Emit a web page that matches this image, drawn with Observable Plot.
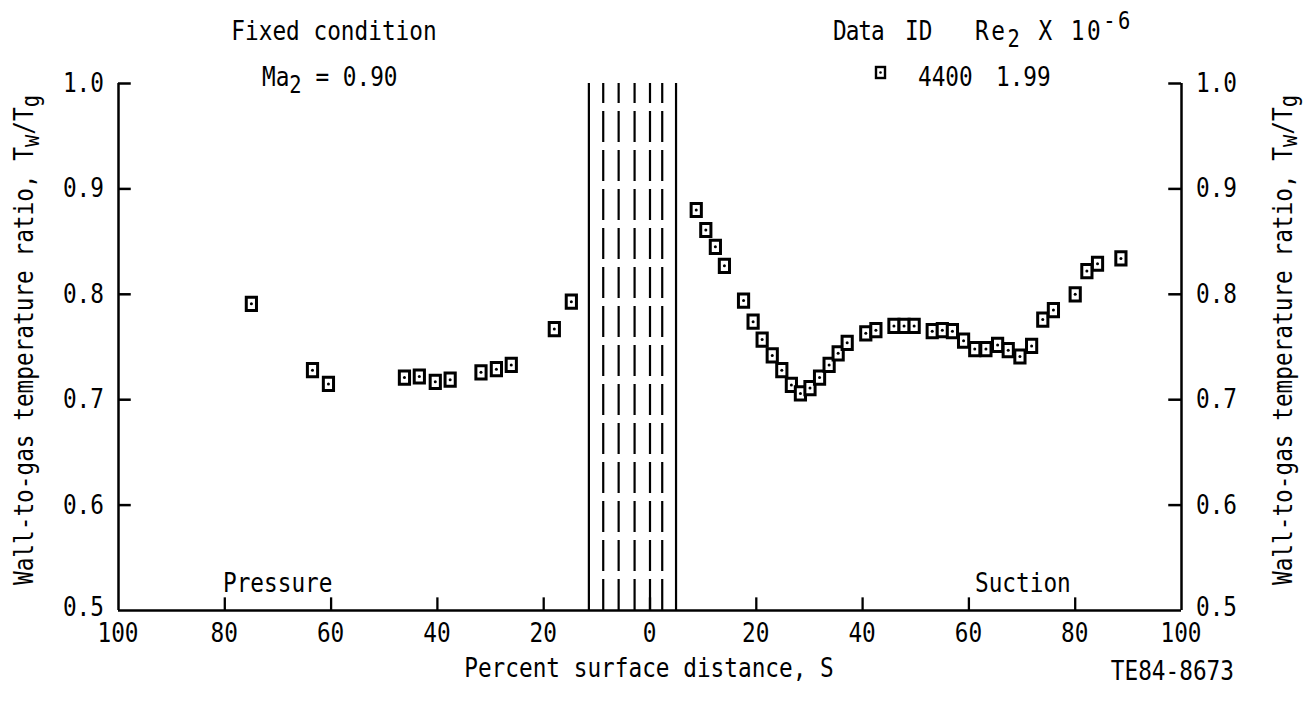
<!DOCTYPE html>
<html>
<head>
<meta charset="utf-8">
<script src="https://cdn.jsdelivr.net/npm/d3@7"></script>
<script src="https://cdn.jsdelivr.net/npm/@observablehq/plot@0.6"></script>
<style>
  html, body { margin: 0; padding: 0; background: #fff; }
</style>
</head>
<body>
<div id="chart"></div>
<script>
// Percent surface distance (pressure side negative) and wall-to-gas temperature ratio
const pressureS = [-75.0, -63.5, -60.5, -46.2, -43.4, -40.4, -37.6, -31.8, -28.9, -26.1, -18.0, -14.8];
const pressureT = [0.791, 0.728, 0.715, 0.721, 0.722, 0.717, 0.719, 0.726, 0.729, 0.733, 0.767, 0.793];
const suctionS = [8.7, 10.5, 12.3, 14.0, 17.6, 19.4, 21.1, 23.0, 24.8, 26.6, 28.3, 30.1, 31.9, 33.7, 35.4, 37.1,
  40.6, 42.5, 45.9, 47.8, 49.7, 53.1, 55.0, 56.9, 59.0, 61.1, 63.2, 65.4, 67.4, 69.6, 71.8, 73.9, 75.9, 80.0, 82.2, 84.2, 88.6];
const suctionT = [0.880, 0.861, 0.845, 0.827, 0.794, 0.774, 0.757, 0.742, 0.728, 0.714, 0.706, 0.711, 0.721, 0.733, 0.744, 0.754,
  0.763, 0.766, 0.770, 0.770, 0.770, 0.765, 0.766, 0.765, 0.756, 0.748, 0.748, 0.752, 0.747, 0.741, 0.751, 0.776, 0.785, 0.800, 0.822, 0.829, 0.834];
// Cooling hole rows near leading edge
const holeSolid = [-11.5, 4.9];
const holeDashed = [-8.8, -5.9, -2.9, 0, 2.3];
const xTicks = [-100, -80, -60, -40, -20, 0, 20, 40, 60, 80, 100];
const yTicks = [0.5, 0.6, 0.7, 0.8, 0.9, 1.0];

const points = pressureS.map((s, i) => ({s, t: pressureT[i]}))
  .concat(suctionS.map((s, i) => ({s, t: suctionT[i]})));

const FONT = "'DejaVu Sans Mono', 'Liberation Mono', monospace";
const FS = 22.75;      // font size (advance ~13.7px)
const SY = 1.2;        // vertical stretch to mimic tall plotter lettering

const rectSymbol = {
  draw(ctx) {
    const w = 5.1, h = 6.6;
    ctx.moveTo(-w, -h); ctx.lineTo(w, -h); ctx.lineTo(w, h); ctx.lineTo(-w, h); ctx.closePath();
  }
};

const chart = Plot.plot({
  width: 1307,
  height: 702,
  marginLeft: 118,
  marginRight: 126,
  marginTop: 83,
  marginBottom: 92,
  style: {fontFamily: FONT, fontSize: FS + "px", color: "black", background: "white"},
  x: {domain: [-100, 100], axis: null},
  y: {domain: [0.5, 1.0], axis: null},
  marks: [
    Plot.ruleX([-100, 100], {y1: 0.5, y2: 1.0, stroke: "black", strokeWidth: 2.5}),
    Plot.ruleY([0.5], {x1: -100, x2: 100, stroke: "black", strokeWidth: 2.5}),
    Plot.ruleY(yTicks.slice(1), {x1: -100, x2: -97.6, stroke: "black", strokeWidth: 2.5}),
    Plot.ruleY(yTicks.slice(1), {x1: 100, x2: 97.6, stroke: "black", strokeWidth: 2.5}),
    Plot.ruleX(xTicks.slice(1, -1), {y1: 0.5, y2: 0.512, stroke: "black", strokeWidth: 2.3}),
    Plot.ruleX(holeSolid, {y1: 0.5, y2: 1.0, stroke: "black", strokeWidth: 2.2}),
    Plot.ruleX(holeDashed, {y1: 0.5, y2: 1.0, stroke: "black", strokeWidth: 2.2, strokeDasharray: "31,8"}),
    Plot.dot(points, {x: "s", y: "t", symbol: rectSymbol, fill: "white", stroke: "black", strokeWidth: 3}),
    Plot.dot(points, {x: "s", y: "t", r: 1.5, fill: "black", stroke: "none"})
  ]
});
document.getElementById("chart").appendChild(chart);

const svg = d3.select(chart);
const sx = chart.scale("x"), sy = chart.scale("y");

function addText(x, y, parts, opts = {}) {
  const size = opts.size || FS;
  const g = svg.append("g")
    .attr("transform", `translate(${x},${y})${opts.rotate ? ` rotate(${opts.rotate})` : ""} scale(1,${SY})`);
  const t = g.append("text")
    .attr("x", 0).attr("y", 0)
    .attr("font-family", FONT)
    .attr("font-size", size)
    .attr("fill", "black")
    .attr("text-anchor", opts.anchor || "start");
  if (opts.spacing) t.attr("letter-spacing", opts.spacing);
  let shift = 0;
  for (const p of parts) {
    const [str, kind] = Array.isArray(p) ? p : [p, null];
    const target = kind === "sub" ? (opts.sub || 6) : kind === "sup" ? -9 : 0;
    const s = t.append("tspan").text(str).attr("dy", target - shift);
    if (kind) s.attr("font-size", size * 0.9);
    shift = target;
  }
  return t;
}

// Tick labels positioned through the library's scales
for (const v of xTicks) addText(sx.apply(v), sy.apply(0.5) + 32, [String(Math.abs(v))], {anchor: "middle"});
for (const v of yTicks) {
  const yy = sy.apply(v) + (v === 0.5 ? 6 : 9);
  const lab = v.toFixed(1);
  addText(sx.apply(-100) - 14, yy, [lab], {anchor: "end"});
  addText(sx.apply(100) + 15, yy, [lab], {anchor: "start"});
}

addText(334, 40, ["Fixed condition"], {anchor: "middle"});
addText(262, 86, ["Ma", ["2", "sub"], " = 0.90"]);
addText(833, 40, ["Data"], {spacing: -1});
addText(905, 40, ["ID"]);
addText(975, 40, ["Re", ["2", "sub"], " X 10", ["-6", "sup"]], {spacing: 2.5});
addText(918, 86, ["4400"]);
addText(996, 86, ["1.99"]);
// legend marker
svg.append("rect").attr("x", 876).attr("y", 67).attr("width", 9).attr("height", 11)
  .attr("fill", "white").attr("stroke", "black").attr("stroke-width", 2.4);
svg.append("circle").attr("cx", 880.5).attr("cy", 72.5).attr("r", 1.3).attr("fill", "black");

addText(223, 592, ["Pressure"]);
addText(975, 592, ["Suction"]);
addText(649, 677, ["Percent surface distance, S"], {anchor: "middle"});
addText(1234, 680, ["TE84-8673"], {anchor: "end"});
addText(33, 340, ["Wall-to-gas temperature ratio, T", ["w", "sub"], "/T", ["g", "sub"]], {anchor: "middle", rotate: -90, sub: 5});
addText(1292, 340, ["Wall-to-gas temperature ratio, T", ["w", "sub"], "/T", ["g", "sub"]], {anchor: "middle", rotate: -90, sub: 4});
</script>
</body>
</html>
